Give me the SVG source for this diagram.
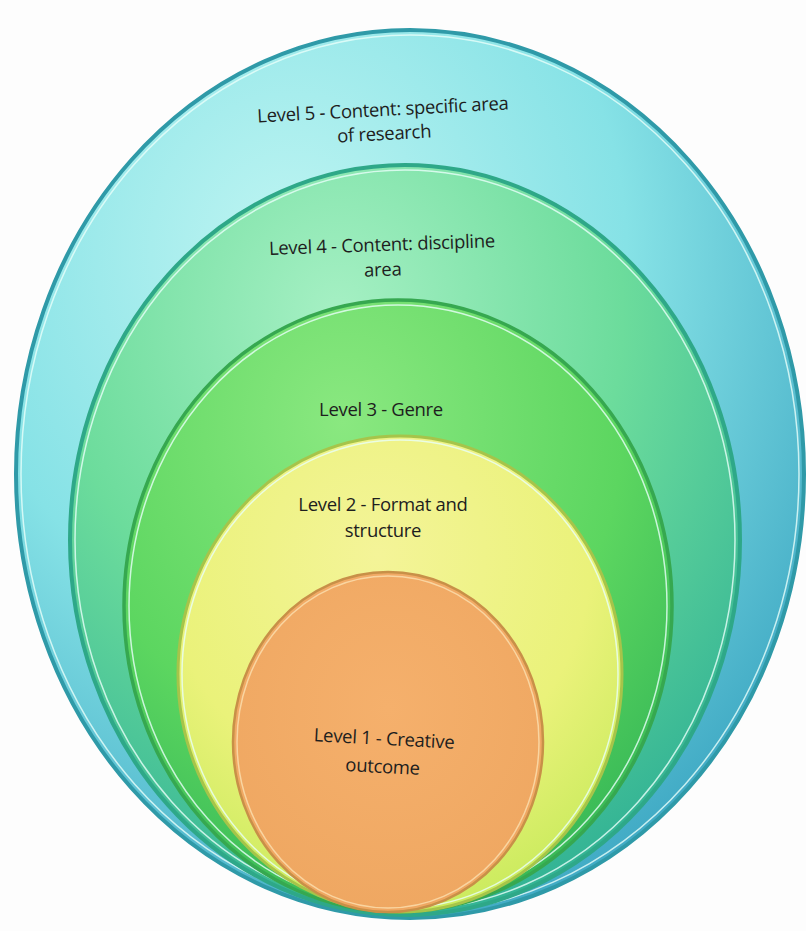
<svg xmlns="http://www.w3.org/2000/svg" width="806" height="931" viewBox="0 0 806 931">
<style>
.lbl{font-family:"Open Sans","Liberation Sans",sans-serif;font-size:18.5px;fill:#1e1e1e;text-anchor:middle;letter-spacing:-0.3px}
.hl{fill:none;stroke:#e8fffa;stroke-width:1.5;opacity:0.8}
</style>
<defs>
<radialGradient id="g5" cx="0.35" cy="0.25" r="0.85">
<stop offset="0" stop-color="#bff5f2"/><stop offset="0.5" stop-color="#86e2e6"/><stop offset="1" stop-color="#36a2c0"/>
</radialGradient>
<radialGradient id="g4" cx="0.4" cy="0.2" r="0.85">
<stop offset="0" stop-color="#a6f0c4"/><stop offset="0.5" stop-color="#6cdc9c"/><stop offset="1" stop-color="#2eb094"/>
</radialGradient>
<radialGradient id="g3" cx="0.4" cy="0.2" r="0.85">
<stop offset="0" stop-color="#8ae880"/><stop offset="0.6" stop-color="#5cd660"/><stop offset="1" stop-color="#34b656"/>
</radialGradient>
<radialGradient id="g2" cx="0.45" cy="0.25" r="0.8">
<stop offset="0" stop-color="#f4f498"/><stop offset="0.6" stop-color="#eaf27a"/><stop offset="1" stop-color="#c6ea5a"/>
</radialGradient>
<radialGradient id="g1" cx="0.5" cy="0.4" r="0.7">
<stop offset="0" stop-color="#f5b06c"/><stop offset="1" stop-color="#eea660"/>
</radialGradient>
</defs>
<rect width="806" height="931" fill="#fdfdfd"/>
<g id="level5">
<ellipse cx="410" cy="474" rx="394" ry="444" fill="url(#g5)" stroke="#2f9aa8" stroke-width="4"/>
<ellipse class="hl" cx="410" cy="474" rx="389" ry="439"/>
<text class="lbl" transform="rotate(-3 383 112)"><tspan x="383" y="116">Level 5 - Content: specific area</tspan><tspan x="383" y="140">of research</tspan></text>
</g>
<g id="level4">
<ellipse cx="405" cy="540" rx="335" ry="375" fill="url(#g4)" stroke="#2ea888" stroke-width="4"/>
<ellipse class="hl" cx="405" cy="540" rx="330" ry="370"/>
<text class="lbl" transform="rotate(-2 382 247)"><tspan x="382" y="251">Level 4 - Content: discipline</tspan><tspan x="382" y="276">area</tspan></text>
</g>
<g id="level3">
<ellipse cx="398" cy="606" rx="274" ry="306" fill="url(#g3)" stroke="#36a850" stroke-width="3.5"/>
<ellipse class="hl" cx="398" cy="606" rx="269" ry="301"/>
<text class="lbl"><tspan x="381" y="416">Level 3 - Genre</tspan></text>
</g>
<g id="level2">
<ellipse cx="400" cy="674" rx="222" ry="238" fill="url(#g2)" stroke="#a6c44a" stroke-width="3"/>
<ellipse class="hl" cx="400" cy="674" rx="218" ry="234"/>
<text class="lbl"><tspan x="383" y="511">Level 2 - Format and</tspan><tspan x="383" y="537">structure</tspan></text>
</g>
<g id="level1">
<ellipse cx="388" cy="742" rx="155" ry="170" fill="url(#g1)" stroke="#c89048" stroke-width="2.5"/>
<ellipse class="hl" cx="388" cy="742" rx="151" ry="166" style="stroke:#fbe0b0"/>
<text class="lbl" transform="rotate(3 384 740)"><tspan x="384" y="745">Level 1 - Creative</tspan><tspan x="384" y="773">outcome</tspan></text>
</g>
<g id="connectors"/>
</svg>
